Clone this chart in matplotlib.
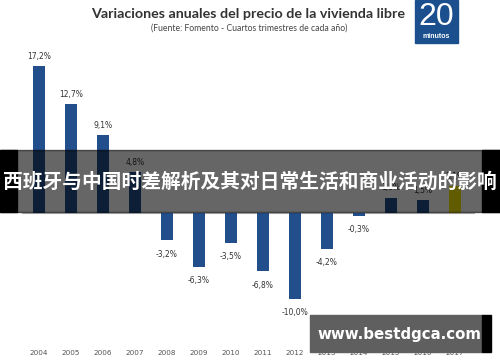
import matplotlib.pyplot as plt
from matplotlib.patches import Rectangle

years = ['2004', '2005', '2006', '2007', '2008', '2009', '2010',
         '2011', '2012', '2013', '2014', '2015', '2016', '2017']
values = [17.2, 12.7, 9.1, 4.8, -3.2, -6.3, -3.5,
          -6.8, -10.0, -4.2, -0.3, 1.8, 1.5, 3.1]
labels = ['17,2%', '12,7%', '9,1%', '4,8%', '-3,2%', '-6,3%', '-3,5%',
          '-6,8%', '-10,0%', '-4,2%', '-0,3%', '1,8%', '1,5%', '3,1%']

title = 'Variaciones anuales del precio de la vivienda libre'
subtitle = '(Fuente: Fomento - Cuartos trimestres de cada año)'
banner = '西班牙与中国时差解析及其对日常生活和商业活动的影响'
watermark = 'www.bestdgca.com'

W, H = 500, 362
fig = plt.figure(figsize=(W / 100, H / 100), dpi=100)
fig.patch.set_facecolor('white')


def fx(px):
    return px / W


def fy(py):
    return 1 - py / H


# axes placed in pixels: x 22..475, y 40..340
ax = fig.add_axes([fx(22), fy(340), fx(475 - 22), (340 - 40) / H])
ax.set_xlim(-0.53, 13.625)
ax.set_ylim(-14.85, 20.23)
ax.axis('off')

colors = ['#224f8b'] * 13 + ['#f2e600']
x = list(range(len(years)))
ax.bar(x, values, width=0.4, color=colors, zorder=2)
ax.axhline(0, color='#b0b0b0', lw=0.8, zorder=1)

for i, (v, lab) in enumerate(zip(values, labels)):
    off = 7 if v >= 0 else -10
    ax.annotate(lab, (i, v), xytext=(0, off), textcoords='offset points',
                ha='center', va='center', fontsize=5.5, color='#333333',
                family='DejaVu Sans')

for i, yr in enumerate(years):
    ax.text(i, -16.4, yr, ha='center', va='center', fontsize=5.2,
            color='#555555', transform=ax.transData, clip_on=False)

# titles
fig.text(fx(248), fy(14), title, ha='center', va='center', fontsize=10.3,
         fontweight='bold', color='#333333', family='Lato')
fig.text(fx(249), fy(28), subtitle, ha='center', va='center', fontsize=6.2,
         color='#444444', family='Lato')

# logo
fig.patches.append(Rectangle((fx(415), fy(43)), fx(43), 43 / H,
                             transform=fig.transFigure, color='#1c4f8e', zorder=3))
fig.text(fx(436.5), fy(17), '20', ha='center', va='center', fontsize=23,
         color='white', family='Liberation Sans', zorder=4)
fig.text(fx(436.5), fy(36), 'minutos', ha='center', va='center', fontsize=5,
         color='white', fontweight='bold', family='Liberation Sans', zorder=4)

# banner overlay
fig.patches.append(Rectangle((0, fy(212)), 1, 62 / H, transform=fig.transFigure,
                             color='black', alpha=0.6, zorder=5))
fig.patches.append(Rectangle((0, fy(212)), fx(17), 62 / H, transform=fig.transFigure,
                             color='black', zorder=5))
fig.patches.append(Rectangle((fx(482), fy(212)), fx(18), 62 / H,
                             transform=fig.transFigure, color='black', zorder=5))
fig.text(0.5, fy(182), banner, ha='center', va='center', fontsize=14.2,
         fontweight='bold', color='white', family=['Noto Sans CJK SC', 'DejaVu Sans'],
         zorder=6)

# watermark box
fig.patches.append(Rectangle((fx(310), fy(352)), fx(172), 37 / H,
                             transform=fig.transFigure, color='#5f5f5f', zorder=5))
fig.patches.append(Rectangle((fx(482), fy(352)), fx(9), 37 / H,
                             transform=fig.transFigure, color='black', zorder=5))
fig.text(fx(399), fy(334), watermark, ha='center', va='center', fontsize=10.8,
         fontweight='bold', color='white', family='DejaVu Sans', zorder=6)

fig.savefig('out.png', dpi=100)
